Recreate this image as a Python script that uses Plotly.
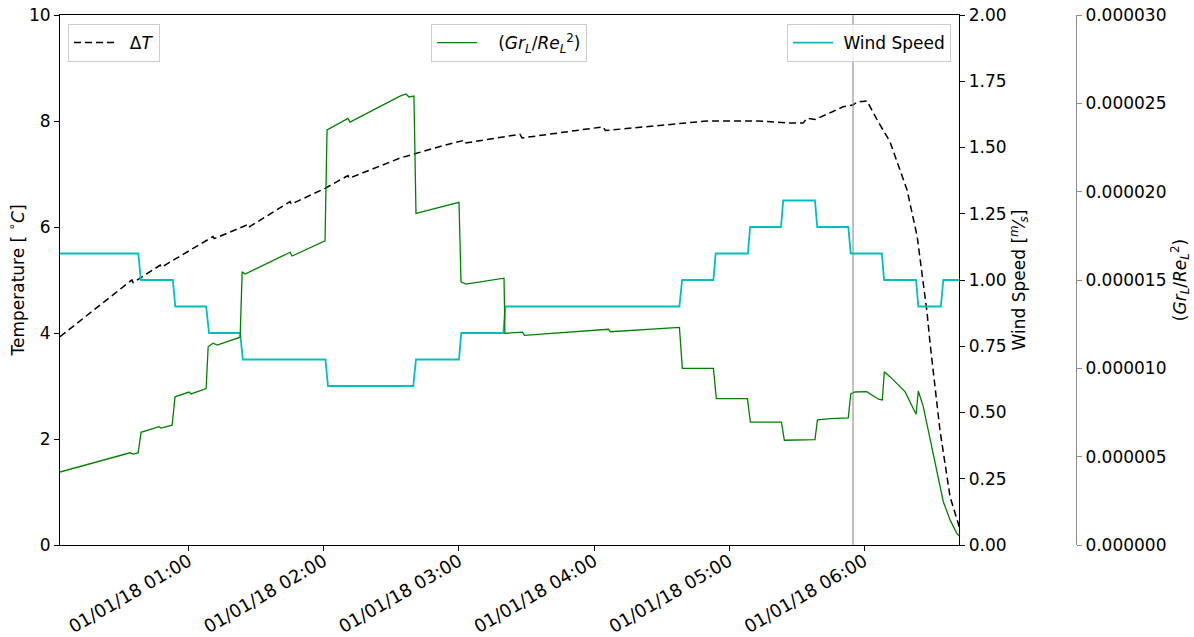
import pandas as pd
import plotly.graph_objects as go

day = pd.Timestamp("2018-01-01")

# Temperature difference ΔT [°C], time in minutes after midnight
dt_minutes = [2.8, 34.7, 35.3, 47.3, 47.8, 70.8, 71.3, 85.9, 86.4, 105.0, 105.5,
              120.5, 130.7, 131.2, 153.8, 171.6, 181.8, 182.3, 207.1, 208.0,
              244.0, 245.0, 290.2, 312.4, 328.4, 332.8, 334.6, 338.2, 346.1,
              350.6, 355.0, 356.8, 361.2, 366.1, 371.4, 375.9, 379.0, 383.5,
              386.1, 387.9, 389.2, 393.6, 398.1, 401.2, 402.2]
dt_values = [3.93, 5.00, 4.95, 5.28, 5.24, 5.82, 5.78, 6.04, 5.99, 6.48, 6.43,
             6.73, 6.97, 6.92, 7.30, 7.52, 7.63, 7.58, 7.75, 7.68,
             7.89, 7.82, 8.00, 8.00, 7.96, 7.96, 8.05, 8.03, 8.18,
             8.27, 8.30, 8.36, 8.38, 7.99, 7.61, 7.08, 6.70, 5.82,
             5.00, 4.38, 3.81, 2.17, 0.91, 0.47, 0.34]

# Gr_L / Re_L^2 ratio (values in units of 1e-6)
ri_minutes = [2.8, 33.9, 35.3, 37.5, 38.8, 46.8, 47.7, 52.6, 53.9, 60.1, 61.0,
              67.7, 68.6, 70.8, 72.6, 82.8, 83.7, 85.0, 105.0, 105.9, 120.5,
              121.4, 130.7, 131.6, 153.8, 156.5, 157.8, 159.2, 160.0, 160.9,
              180.0, 180.9, 183.1, 200.0, 200.4, 208.2, 209.1, 246.4, 247.3,
              277.9, 279.2, 293.0, 294.3, 308.1, 309.4, 323.2, 324.5, 338.1,
              339.2, 344.8, 352.9, 354.0, 355.9, 361.1, 366.3, 368.0, 368.9,
              371.4, 378.1, 383.0, 384.0, 386.2, 389.9, 393.6, 395.1, 398.1,
              401.1, 402.2]
ri_micro = [4.13, 5.22, 5.15, 5.21, 6.38, 6.70, 6.62, 6.78, 8.39, 8.66, 8.55,
            8.85, 11.22, 11.42, 11.32, 11.76, 15.47, 15.34, 16.57, 16.36, 17.22,
            23.49, 24.15, 23.94, 25.41, 25.53, 25.36, 25.41, 25.41, 18.77,
            19.40, 14.90, 14.77, 15.10, 11.98, 12.05, 11.87, 12.21, 12.07,
            12.32, 10.00, 10.00, 8.28, 8.28, 6.96, 6.96, 5.93, 5.97,
            7.08, 7.15, 7.20, 8.55, 8.66, 8.68, 8.25, 8.21, 9.81,
            9.53, 8.68, 7.40, 8.72, 7.83, 5.56, 3.49, 2.45, 1.42,
            0.66, 0.51]

# Wind speed [m/s]
ws_minutes = [2.8, 37.6, 38.7, 52.9, 54.0, 67.7, 69.0, 82.8, 84.0, 120.7, 121.8,
              159.7, 160.9, 180.0, 181.0, 199.7, 200.6, 277.9, 279.1, 293.0,
              294.0, 308.3, 309.3, 323.0, 324.0, 338.1, 339.1, 352.9, 354.0,
              367.8, 368.8, 383.0, 384.0, 394.0, 395.1, 402.2]
ws_values = [1.1, 1.1, 1.0, 1.0, 0.9, 0.9, 0.8, 0.8, 0.7, 0.7, 0.6,
             0.6, 0.7, 0.7, 0.8, 0.8, 0.9, 0.9, 1.0, 1.0,
             1.1, 1.1, 1.2, 1.2, 1.3, 1.3, 1.2, 1.2, 1.1,
             1.1, 1.0, 1.0, 0.9, 0.9, 1.0, 1.0]

marker_minute = 355.0  # vertical reference line
x_start_min, x_end_min = 2.8, 402.2


def to_time(minutes):
    return day + pd.to_timedelta(pd.Series(minutes), unit="min")


FONT = "DejaVu Sans"
FS = 17

fig = go.Figure()

fig.add_trace(go.Scatter(
    x=to_time(dt_minutes), y=dt_values, mode="lines", name="  Δ<i>T</i>",
    line=dict(color="black", width=1.5, dash="7px,4px"),
    yaxis="y", legend="legend", showlegend=True))

fig.add_trace(go.Scatter(
    x=to_time(ri_minutes), y=[v * 1e-6 for v in ri_micro], mode="lines",
    name="   (<i>Gr<sub>L</sub></i>/<i>Re</i><sub><i>L</i></sub><sup>2</sup>)",
    line=dict(color="#008000", width=1.3),
    yaxis="y3", legend="legend2", showlegend=True))

fig.add_trace(go.Scatter(
    x=to_time(ws_minutes), y=ws_values, mode="lines", name=" Wind Speed",
    line=dict(color="#00bfbf", width=1.8),
    yaxis="y2", legend="legend3", showlegend=True))

x_end_dom = (959.3 - 60) / 1114
third_pos = (1076 - 60) / 1114

axis_common = dict(showgrid=False, zeroline=False, ticks="outside", ticklen=5)
tfont = dict(family=FONT, size=FS, color="black")

legend_common = dict(yanchor="top", y=1 - (24 - 15) / 530, bordercolor="#cccccc",
                     borderwidth=1, bgcolor="rgba(255,255,255,0.8)",
                     font=dict(family=FONT, size=FS), itemwidth=40)

fig.update_layout(
    width=1194, height=637,
    margin=dict(l=60, r=20, t=15, b=92, autoexpand=False),
    paper_bgcolor="white", plot_bgcolor="white", showlegend=True,
    font=dict(family=FONT, size=FS, color="black"),
    xaxis=dict(
        domain=[0, x_end_dom], type="date",
        range=[day + pd.Timedelta(minutes=x_start_min), day + pd.Timedelta(minutes=x_end_min)],
        tickformat="%m/%d/%y %H:%M", tick0="2018-01-01 00:00", dtick=3600000,
        tickangle=-30, showline=True, linecolor="black", linewidth=1, mirror=True,
        tickcolor="black", tickfont=dict(family=FONT, size=18, color="black"),
        ticklabelstandoff=-7, **axis_common),
    yaxis=dict(
        range=[0, 10], dtick=2, showline=True, linecolor="black", linewidth=1,
        tickcolor="black", tickfont=tfont,
        title=dict(text="Temperature [ <sup>∘</sup><i>C</i>]", font=dict(family=FONT, size=FS),
                   standoff=0),
        **axis_common),
    yaxis2=dict(
        range=[0, 2], dtick=0.25, tickformat=".2f", overlaying="y", side="right",
        anchor="x", showline=True, linecolor="black", linewidth=1, tickcolor="black",
        tickfont=tfont,
        title=dict(text="Wind Speed [<sup><i>m</i></sup>⁄<sub><i>s</i></sub>]",
                   font=dict(family=FONT, size=FS), standoff=5),
        **axis_common),
    yaxis3=dict(
        range=[0, 3e-5], dtick=5e-6, tickformat=".6f", overlaying="y", side="right",
        anchor="free", position=third_pos, showline=True, linecolor="#8c8c8c",
        linewidth=1, tickcolor="#8c8c8c", tickfont=tfont,
        title=dict(text="(<i>Gr<sub>L</sub></i>/<i>Re</i><sub><i>L</i></sub><sup>2</sup>)",
                   font=dict(family=FONT, size=FS), standoff=8),
        **axis_common),
    legend=dict(x=(68 - 60) / 1114, xanchor="left", **legend_common),
    legend2=dict(x=(509 - 60) / 1114, xanchor="center", **legend_common),
    legend3=dict(x=(951 - 60) / 1114, xanchor="right", **legend_common),
    shapes=[dict(type="line", xref="x", yref="paper",
                 x0=day + pd.Timedelta(minutes=marker_minute),
                 x1=day + pd.Timedelta(minutes=marker_minute),
                 y0=0, y1=1, line=dict(color="#808080", width=1))],
)

fig.write_html("out.html")
